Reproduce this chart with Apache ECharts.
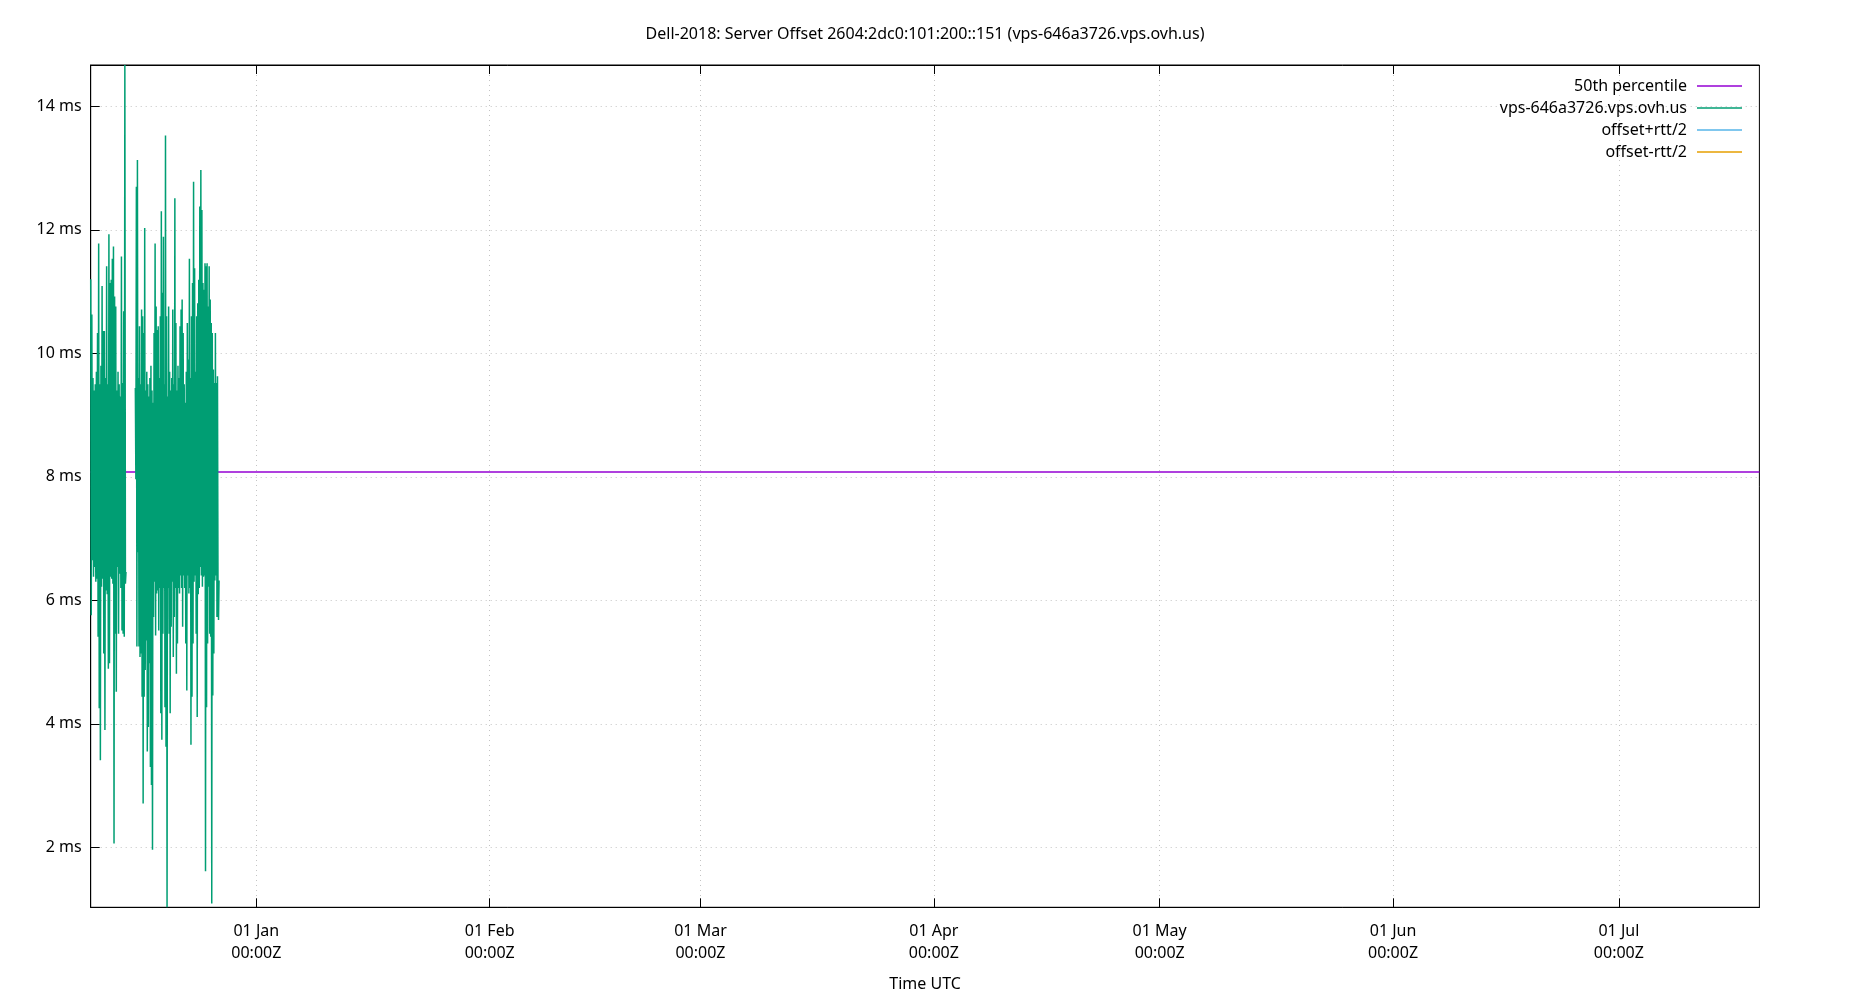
<!DOCTYPE html>
<html><head><meta charset="utf-8">
<script src="https://cdn.jsdelivr.net/npm/echarts@6/dist/echarts.min.js"></script>
<style>html,body{margin:0;padding:0;background:#fff}#c{width:1850px;height:1000px}</style>
</head><body><div id="c"></div>
<script>
const titleText = 'Dell-2018: Server Offset 2604:2dc0:101:200::151 (vps-646a3726.vps.ovh.us)';
const seriesNames = ['50th percentile', 'vps-646a3726.vps.ovh.us', 'offset+rtt/2', 'offset-rtt/2'];
const seriesColors = ['#9400d3', '#009e73', '#56b4e9', '#e69f00'];
const xAxisName = 'Time UTC';
const xRange = ['2018-12-10T00:00:00Z', '2019-07-19T16:00:00Z'];
const yRange = [1.028, 14.67];
const yTicks = [2, 4, 6, 8, 10, 12, 14];
const monthTicks = ['2019-01-01T00:00:00Z', '2019-02-01T00:00:00Z', '2019-03-01T00:00:00Z', '2019-04-01T00:00:00Z', '2019-05-01T00:00:00Z', '2019-06-01T00:00:00Z', '2019-07-01T00:00:00Z'];
const monthLabels = ['01 Jan', '01 Feb', '01 Mar', '01 Apr', '01 May', '01 Jun', '01 Jul'];
const medianOffset = 8.08;

// first run of samples (ms): alternating upper / lower excursions
const block1Span = ['2018-12-10T00:00:00Z', '2018-12-14T16:30:00Z'];
const block1High = [11.20, 10.63, 9.6, 9.4, 9.5, 9.7, 10.33, 11.78, 9.5, 9.8, 11.09, 10.36, 10.36, 9.6, 11.41, 9.5, 11.93, 11.14, 11.19, 11.53, 11.73, 10.92, 10.76, 9.4, 9.7, 9.5, 9.3, 11.57, 9.52, 10.68, 14.67];
const block1Low = [5.76, 6.65, 6.38, 6.54, 6.3, 6.35, 5.41, 4.25, 3.41, 6.22, 6.35, 5.14, 3.90, 6.16, 6.1, 4.89, 4.98, 6.38, 6.35, 6.27, 2.06, 5.46, 4.52, 6.54, 5.46, 6.43, 6.2, 5.51, 5.46, 5.41, 6.27, 6.46];

// second run of samples (ms)
const block2Span = ['2018-12-15T22:20:00Z', '2018-12-27T01:10:00Z'];
const block2High = [9.44, 12.70, 13.13, 9.6, 10.44, 9.5, 10.71, 10.60, 10.33, 12.03, 9.4, 9.7, 9.5, 9.3, 9.6, 9.8, 9.4, 9.2, 10.33, 11.78, 10.76, 10.38, 10.44, 9.6, 10.60, 12.30, 10.98, 11.89, 9.5, 13.53, 10.60, 9.3, 10.76, 9.7, 9.4, 9.6, 10.71, 9.5, 12.51, 10.49, 9.4, 9.8, 9.6, 10.44, 10.71, 10.87, 10.33, 9.5, 9.2, 9.7, 10.49, 9.9, 11.53, 9.6, 10.60, 11.14, 12.78, 11.38, 9.7, 10.60, 10.81, 11.19, 12.38, 12.97, 12.32, 11.14, 11.03, 11.46, 11.41, 11.46, 10.76, 11.41, 10.87, 10.49, 10.33, 9.74, 9.52, 10.33, 9.52, 9.63];
const block2Low = [7.96, 5.25, 6.78, 5.25, 5.08, 5.14, 4.44, 2.71, 4.44, 4.87, 5.35, 3.55, 3.95, 4.98, 3.30, 3.01, 1.96, 5.73, 6.3, 5.43, 6.11, 6.16, 5.51, 6.2, 4.17, 3.74, 5.46, 6.2, 4.27, 3.63, 1.03, 6.2, 5.46, 4.17, 5.57, 6.3, 5.08, 5.73, 6.2, 4.81, 5.30, 6.2, 6.11, 6.4, 6.2, 5.57, 6.4, 6.2, 5.30, 4.54, 6.4, 6.11, 6.2, 3.66, 4.44, 5.30, 6.3, 6.4, 5.46, 4.11, 6.1, 6.2, 6.54, 6.4, 6.22, 6.38, 6.4, 1.61, 4.27, 5.30, 6.22, 5.46, 5.41, 1.09, 4.46, 5.14, 6.32, 6.4, 5.73, 6.27, 5.68, 6.32];

function buildBlock(span, highs, lows) {
  const vals = [];
  const n = Math.max(highs.length, lows.length);
  for (let i = 0; i < n; i++) {
    if (i < highs.length) vals.push(highs[i]);
    if (i < lows.length) vals.push(lows[i]);
  }
  const t0 = Date.parse(span[0]), t1 = Date.parse(span[1]);
  const step = (t1 - t0) / (vals.length - 1);
  return vals.map((v, i) => [t0 + i * step, v]);
}

const b1 = buildBlock(block1Span, block1High, block1Low);
const b2 = buildBlock(block2Span, block2High, block2Low);
const gapTime = (b1[b1.length - 1][0] + b2[0][0]) / 2;
const serverData = b1.concat([[gapTime, null]], b2);

const xMin = Date.parse(xRange[0]), xMax = Date.parse(xRange[1]);
const monthTs = monthTicks.map(s => Date.parse(s));
const medianData = [[xMin, medianOffset], [xMax, medianOffset]];

const FONT = 'Noto Sans';
const gridLine = { show: true, lineStyle: { color: '#c4c4c4', width: 1, type: [1, 4] } };

const chart = echarts.init(document.getElementById('c'), null, { renderer: 'canvas' });
chart.setOption({
  animation: false,
  backgroundColor: '#fff',
  textStyle: { fontFamily: FONT },
  title: {
    text: titleText, left: 'center', top: 24, padding: 0,
    textStyle: { fontFamily: FONT, fontSize: 16, fontWeight: 'normal', color: '#000', lineHeight: 20 }
  },
  legend: {
    orient: 'vertical', right: 108, top: 75, padding: 0, itemGap: 0, align: 'right',
    itemWidth: 45, itemHeight: 1.6, icon: 'rect',
    textStyle: { fontFamily: FONT, fontSize: 16, color: '#000', lineHeight: 22, padding: [0, 5, 0, 0] },
    data: seriesNames
  },
  grid: { left: 90.7, right: 90.6, top: 65, bottom: 92.7, show: true, borderColor: '#000', borderWidth: 1, containLabel: false },
  xAxis: [{
    type: 'value', min: xMin, max: xMax, scale: true,
    name: xAxisName, nameLocation: 'middle', nameGap: 69,
    nameTextStyle: { fontFamily: FONT, fontSize: 16, color: '#000' },
    axisLine: { show: true, lineStyle: { color: '#000', width: 1 } },
    axisTick: { show: true, inside: true, length: 9, customValues: monthTs, lineStyle: { color: '#000' } },
    axisLabel: {
      customValues: monthTs, margin: 13, fontFamily: FONT, fontSize: 16, color: '#000', lineHeight: 22,
      formatter: function (v) {
        const idx = monthTs.indexOf(v);
        const lab = idx >= 0 ? monthLabels[idx] : '';
        return lab + '\n00:00Z';
      }
    },
    splitLine: gridLine
  }, {
    type: 'value', min: xMin, max: xMax, scale: true, position: 'top',
    axisLine: { show: true, lineStyle: { color: '#000', width: 1 } },
    axisTick: { show: true, inside: true, length: 9, customValues: monthTs, lineStyle: { color: '#000' } },
    axisLabel: { show: false, customValues: monthTs },
    splitLine: { show: false }
  }],
  yAxis: [{
    type: 'value', min: yRange[0], max: yRange[1],
    axisLine: { show: true, lineStyle: { color: '#000', width: 1 } },
    axisTick: { show: true, inside: true, length: 9, customValues: yTicks, lineStyle: { color: '#000' } },
    axisLabel: { customValues: yTicks, margin: 9, fontFamily: FONT, fontSize: 16, color: '#000', formatter: v => v + ' ms' },
    splitLine: gridLine
  }],
  series: [
    { name: seriesNames[0], type: 'line', data: medianData, symbol: 'none', color: seriesColors[0], lineStyle: { width: 1.5, color: seriesColors[0] }, clip: true },
    { name: seriesNames[1], type: 'line', data: serverData, symbol: 'none', color: seriesColors[1], lineStyle: { width: 1.5, color: seriesColors[1] }, connectNulls: false, clip: true },
    { name: seriesNames[2], type: 'line', data: [], symbol: 'none', color: seriesColors[2], lineStyle: { width: 1, color: seriesColors[2] } },
    { name: seriesNames[3], type: 'line', data: [], symbol: 'none', color: seriesColors[3], lineStyle: { width: 1, color: seriesColors[3] } }
  ]
});
</script></body></html>
